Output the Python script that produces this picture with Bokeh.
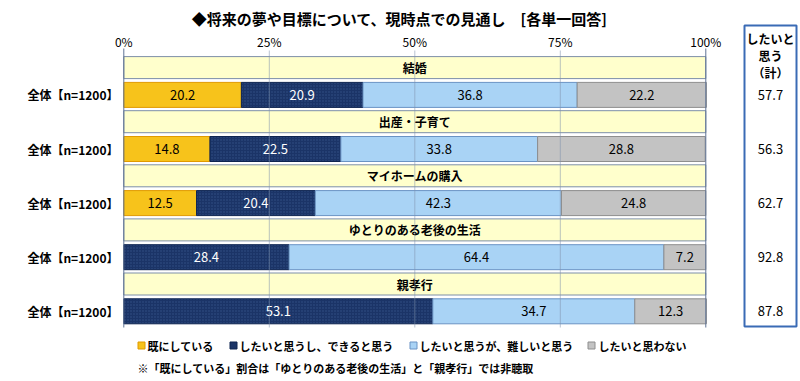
import numpy as np
from bokeh.plotting import figure
from bokeh.models import Range1d
from bokeh.core.properties import value
from bokeh.embed import file_html
from bokeh.resources import INLINE

# ---------------- data ----------------
title = "◆将来の夢や目標について、現時点での見通し　[各単一回答]"
categories = ["結婚", "出産・子育て", "マイホームの購入", "ゆとりのある老後の生活", "親孝行"]
row_label = "全体【n=1200】"
already = [20.2, 14.8, 12.5, 0.0, 0.0]
want_can = [20.9, 22.5, 20.4, 28.4, 53.1]
want_hard = [36.8, 33.8, 42.3, 64.4, 34.7]
not_want = [22.2, 28.8, 24.8, 7.2, 12.3]
want_total = [57.7, 56.3, 62.7, 92.8, 87.8]
series_names = ["既にしている", "したいと思うし、できると思う", "したいと思うが、難しいと思う", "したいと思わない"]
tick_values = [0, 25, 50, 75, 100]
tick_labels = ["0%", "25%", "50%", "75%", "100%"]
total_header = ["したいと", "思う", "（計）"]
note = "※「既にしている」割合は「ゆとりのある老後の生活」と「親孝行」では非聴取"

# ---------------- style ----------------
FONT = value("Noto Sans CJK JP")
fills = ["#F7C31B", "#1B3467", "#A9D3F5", "#C3C3C3"]
lines = ["#E09A00", "#0E2450", "#6A93C4", "#8E8E8E"]
txtcol = ["#000000", "#FFFFFF", "#000000", "#000000"]

W, H = 800, 381
X0PX, SCALE = 123.3, 5.82  # px of 0%, px per percent


def xs(px):
    return (px - X0PX) / SCALE


def ys(py):
    return py


p = figure(width=W, height=H,
           x_range=Range1d(-X0PX / SCALE, (W - X0PX) / SCALE),
           y_range=Range1d(H, 0),
           output_backend="svg", toolbar_location=None, min_border=0)
p.xaxis.visible = False
p.yaxis.visible = False
p.xgrid.visible = False
p.ygrid.visible = False
p.outline_line_color = None
p.background_fill_color = "white"
p.border_fill_color = "white"

n = len(categories)
rows = np.arange(n)
yc = ys(94.4) + 54.1 * rows
yh = yc - 27.3

# header bars
p.hbar(y=yh, left=0, right=100, height=22, fill_color="#FFFFCC",
       line_color="#7D8FA8", line_width=1)
p.text(x=[50] * n, y=yh, text=categories, text_font=FONT, text_font_size="12px",
       text_font_style="bold", text_align="center", text_baseline="middle", text_color="black")

# stacked bars
data = np.array([already, want_can, want_hard, not_want])
cum = np.cumsum(data, axis=0)
lefts = cum - data
for k in range(4):
    vals = data[k]
    m = vals > 0
    kw = {}
    if k == 1:
        kw = dict(hatch_pattern="dot", hatch_color="#4A6AA8", hatch_alpha=0.5, hatch_scale=3)
    p.hbar(y=yc[m], left=lefts[k][m], right=cum[k][m], height=25,
           fill_color=fills[k], line_color=lines[k], line_width=1, **kw)
    mids = (lefts[k][m] + cum[k][m]) / 2
    p.text(x=mids, y=yc[m], text=[f"{v:.1f}" for v in vals[m]], text_font=FONT,
           text_font_size="13px", text_align="center", text_baseline="middle",
           text_color=txtcol[k])

# gridlines / frame
p.segment(x0=[25, 50, 75], y0=ys(50), x1=[25, 50, 75], y1=ys(327),
          line_color="#7F92AE", line_alpha=0.55, line_width=1)
p.segment(x0=[0, 100], y0=ys(48), x1=[0, 100], y1=ys(327),
          line_color="#5F7394", line_width=1)

# tick labels
p.text(x=tick_values, y=[ys(41)] * 5, text=tick_labels, text_font=FONT,
       text_font_size="12px", text_align="center", text_baseline="middle", text_color="black")

# row labels
p.text(x=[xs(118)] * n, y=yc, text=[row_label] * n, text_font=FONT, text_font_size="12px",
       text_font_style="bold", text_align="right", text_baseline="middle", text_color="black")

# title
p.text(x=[xs(399)], y=[ys(18)], text=[title], text_font=FONT, text_font_size="15px",
       text_font_style="bold", text_align="center", text_baseline="middle", text_color="black")

# right box with totals
p.quad(left=[xs(744)], right=[xs(796)], top=[ys(25)], bottom=[ys(326)],
       fill_color="white", line_color="#3A6BB5", line_width=2)
bx = xs(770)
p.text(x=[bx] * 3, y=[ys(38), ys(55), ys(72)], text=total_header, text_font=FONT,
       text_font_size="12px", text_font_style="bold", text_align="center",
       text_baseline="middle", text_color="black")
p.text(x=[bx] * n, y=yc, text=[f"{v:.1f}" for v in want_total], text_font=FONT,
       text_font_size="13px", text_align="center", text_baseline="middle", text_color="black")

# legend
leg_sq = [141, 233, 413, 591]
leg_tx = [147, 239, 419, 598]
ly = ys(345)
for k in range(4):
    p.scatter(x=[xs(leg_sq[k])], y=[ly], marker="square", size=7,
              fill_color=fills[k], line_color=lines[k], line_width=1)
    p.text(x=[xs(leg_tx[k])], y=[ly], text=[series_names[k]], text_font=FONT,
           text_font_size="11px", text_font_style="bold", text_align="left",
           text_baseline="middle", text_color="black")

p.text(x=[xs(137)], y=[ys(367)], text=[note], text_font=FONT, text_font_size="11px",
       text_font_style="bold", text_align="left", text_baseline="middle", text_color="black")

open("out.html", "w").write(file_html(p, INLINE))
